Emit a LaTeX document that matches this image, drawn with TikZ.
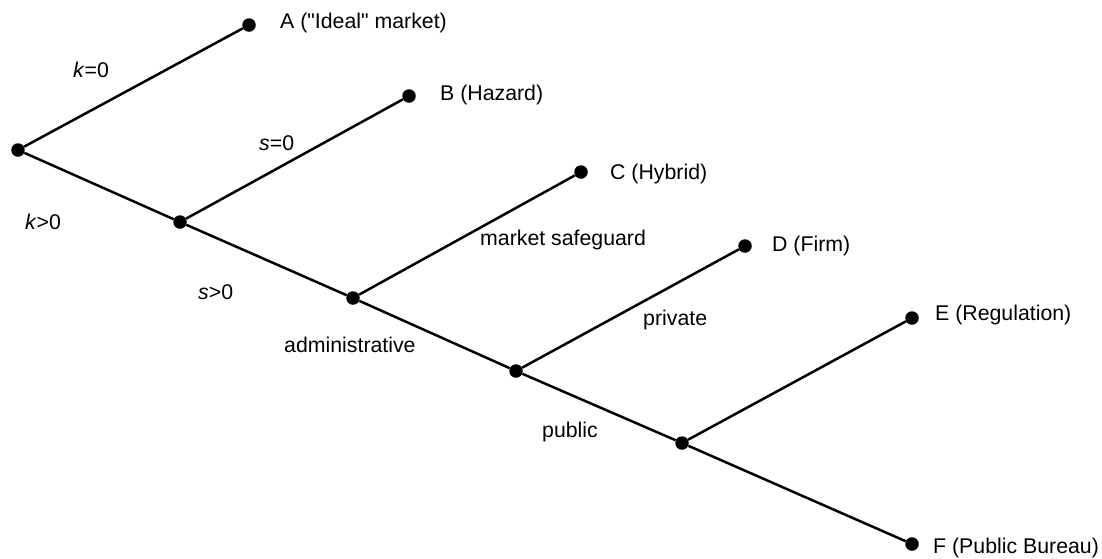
\documentclass[tikz,border=0pt]{standalone}
\usepackage{fontspec}
\setmainfont{Liberation Sans}
\begin{document}
\begin{tikzpicture}[x=1pt,y=-1pt,
  dot/.style={circle,fill=black,inner sep=0pt,minimum size=13.5pt},
  branch/.style={line width=2.5pt},
  lbl/.style={anchor=base west,inner sep=0pt,font=\fontsize{21.3}{25}\selectfont}]
\useasboundingbox (0,0) rectangle (1102,558);
% decision nodes
\node[dot] (root) at (18,150) {};
\node[dot] (n1) at (180,222) {};
\node[dot] (n2) at (353,298) {};
\node[dot] (n3) at (516,371) {};
\node[dot] (n4) at (682,443) {};
% outcomes
\node[dot] (A) at (249,25) {};
\node[dot] (B) at (409,96) {};
\node[dot] (C) at (581,172) {};
\node[dot] (D) at (745,246) {};
\node[dot] (E) at (912,318) {};
\node[dot] (F) at (912,544) {};
% branches
\draw[branch] (root) -- (A);
\draw[branch] (root) -- (n1);
\draw[branch] (n1) -- (B);
\draw[branch] (n1) -- (n2);
\draw[branch] (n2) -- (C);
\draw[branch] (n2) -- (n3);
\draw[branch] (n3) -- (D);
\draw[branch] (n3) -- (n4);
\draw[branch] (n4) -- (E);
\draw[branch] (n4) -- (F);
% outcome labels
\node[lbl] (lA) at (280,28) {A (\textquotedbl Ideal\textquotedbl\ market)};
\node[lbl] (lB) at (440,100) {B (Hazard)};
\node[lbl] (lC) at (610,179) {C (Hybrid)};
\node[lbl] (lD) at (772,251) {D (Firm)};
\node[lbl] (lE) at (935,320) {E (Regulation)};
\node[lbl] (lF) at (933,553) {F (Public Bureau)};
% branch labels
\node[lbl] (k0) at (73,77) {\textit{k}=0};
\node[lbl] (s0) at (259,150) {\textit{s}=0};
\node[lbl] (kp) at (25,229) {\textit{k}>0};
\node[lbl] (sp) at (198,299) {\textit{s}>0};
\node[lbl] (ms) at (480,245) {market safeguard};
\node[lbl] (adm) at (284,352) {administrative};
\node[lbl] (prv) at (643,325) {private};
\node[lbl] (pub) at (542,437) {public};
\end{tikzpicture}
\end{document}
